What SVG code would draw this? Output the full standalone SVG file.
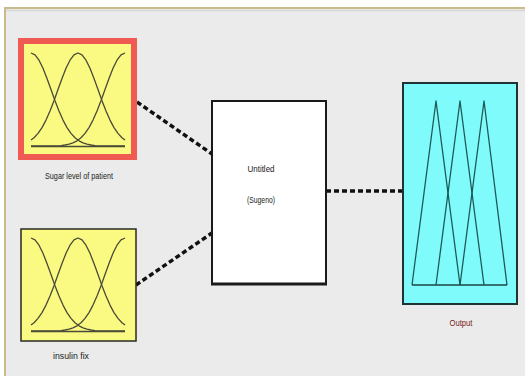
<svg xmlns="http://www.w3.org/2000/svg" width="525" height="376" viewBox="0 0 525 376">
  <defs>
    <style>
      .lbl { font-family: "Liberation Sans", Arial, sans-serif; font-size: 9px; fill: #222; text-anchor: middle; }
      .mf { fill: none; stroke: #4a4a38; stroke-width: 1.3; stroke-linejoin: round; }
      .tri { fill: none; stroke: #1f5a5a; stroke-width: 1.3; stroke-linejoin: round; }
      .link { fill: none; stroke: #111; stroke-width: 3.5; stroke-dasharray: 5 3; }
    </style>
    <!-- three gaussian membership functions, input thumbnail -->
    <g id="gauss3">
      <polyline class="mf" points="31,53 35,54.9 39,60.2 43,68.3 47,78.5 51,89.5 55,100.7 59,111.1 63,120.1 67,127.6 71,133.4 75,137.7 79,140.8 83,142.8 87,144.1 91,145 95,145.6 103,145.9 125,146"/>
      <polyline class="mf" points="31,140.1 34,137.7 38,133.4 42,127.6 46,120.1 50,111.1 54,100.7 58,89.5 62,78.5 66,68.3 70,60.2 74,54.9 78,53 82,54.9 86,60.2 90,68.3 94,78.5 98,89.5 102,100.7 106,111.1 110,120.1 114,127.6 118,133.4 122,137.7 125,140.1"/>
      <polyline class="mf" points="125,53 121,54.9 117,60.2 113,68.3 109,78.5 105,89.5 101,100.7 97,111.1 93,120.1 89,127.6 85,133.4 81,137.7 77,140.8 73,142.8 69,144.1 65,145 61,145.6 53,145.9 31,146"/>
      <line x1="31" y1="146.5" x2="125" y2="146.5" stroke="#4a4a38" stroke-width="1.6"/>
    </g>
  </defs>

  <!-- window frame -->
  <rect x="0" y="0" width="525" height="376" fill="#ffffff"/>
  <rect x="5" y="8" width="530" height="380" fill="#ebebeb" stroke="#c9bb8c" stroke-width="2"/>
  <line x1="6" y1="10.5" x2="525" y2="10.5" stroke="#d6d6d6" stroke-width="1.5"/>

  <!-- connectors -->
  <g id="connectors">
    <line class="link" x1="137" y1="102" x2="212" y2="154"/>
    <line class="link" x1="136" y1="285" x2="212" y2="233"/>
    <line class="link" x1="326" y1="191" x2="403" y2="191"/>
  </g>

  <!-- input: sugar level (selected) -->
  <g id="sugar">
    <rect x="21" y="41" width="113" height="116" fill="#fafa82" stroke="#ef5a52" stroke-width="6"/>
    <use href="#gauss3"/>
    <text class="lbl" x="79" y="179" textLength="68" lengthAdjust="spacingAndGlyphs">Sugar level of patient</text>
  </g>

  <!-- input: insulin fix -->
  <g id="insulin">
    <rect x="21" y="229" width="115" height="112" fill="#fafa82" stroke="#2a2a22" stroke-width="1.5"/>
    <use href="#gauss3" transform="translate(0,185)"/>
    <text class="lbl" x="71" y="359" textLength="36" lengthAdjust="spacingAndGlyphs">insulin fix</text>
  </g>

  <!-- inference system -->
  <g id="system">
    <rect x="212" y="101" width="114" height="183" fill="#ffffff" stroke="#1a1a1a" stroke-width="2"/>
    <line x1="211" y1="284" x2="327" y2="284" stroke="#1a1a1a" stroke-width="3"/>
    <text class="lbl" x="261" y="172" textLength="27" lengthAdjust="spacingAndGlyphs">Untitled</text>
    <text class="lbl" x="261" y="203" textLength="28" lengthAdjust="spacingAndGlyphs">(Sugeno)</text>
  </g>

  <!-- output -->
  <g id="output">
    <rect x="403" y="83" width="114" height="221" fill="#80fbfb" stroke="#1f3535" stroke-width="2"/>
    <polyline class="tri" points="412,285 436,101 460,285"/>
    <polyline class="tri" points="436,285 460,101 484,285"/>
    <polyline class="tri" points="460,285 484,101 507,285"/>
    <line x1="412" y1="285" x2="507" y2="285" stroke="#1f4545" stroke-width="1.6"/>
    <text class="lbl" x="461" y="326" textLength="23" lengthAdjust="spacingAndGlyphs" style="fill:#7a1a1a">Output</text>
  </g>
</svg>
